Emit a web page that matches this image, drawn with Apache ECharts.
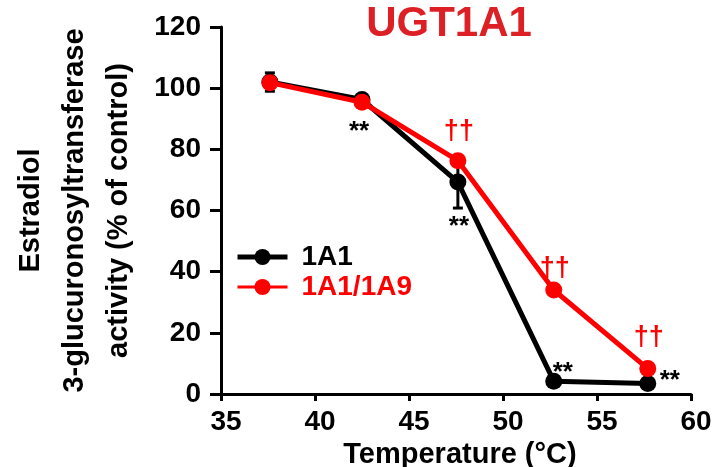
<!DOCTYPE html>
<html>
<head>
<meta charset="utf-8">
<script src="https://cdn.jsdelivr.net/npm/echarts@6/dist/echarts.min.js"></script>
<style>
  html, body { margin: 0; padding: 0; background: #fff; }
  #chart { width: 720px; height: 467px; }
</style>
</head>
<body>
<div id="chart"></div>
<script>
// ---- data ----
const temperatures = [37.6, 42.5, 47.6, 52.7, 57.7];
const seriesNames = ['1A1', '1A1/1A9'];
const activity1A1 = [102.0, 96.3, 69.3, 4.2, 3.4];
const activity1A1_1A9 = [101.8, 95.4, 76.3, 34.0, 8.3];
const error1A1 = [3.0, 0, 8.5, 0, 0];
const error1A1_1A9 = [0, 0, 0, 0, 0];
const marks1A1 = ['', '**', '**', '**', '**'];
const marks1A1_1A9 = ['', '', '††', '††', '††'];
const xTicks = [35, 40, 45, 50, 55, 60];
const yTicks = [0, 20, 40, 60, 80, 100, 120];

// ---- styling ----
const FONT = '"Liberation Sans", Arial, Helvetica, sans-serif';
const BLACK = '#000000';
const RED = '#ff0000';
const markOffsets1A1 = [[0, 0], [-3, 32], [1, 45], [9, -8], [22, -3]];
const markOffsets1A1_1A9 = [[0, 0], [0, 0], [1, -29], [1, -21], [1, -31]];

function lineData(values, marks, offsets, color, fontSize, weight) {
  return temperatures.map((t, i) => ({
    value: [t, values[i]],
    label: {
      show: marks[i] !== '',
      formatter: marks[i],
      position: 'inside',
      offset: offsets[i],
      color: color,
      fontSize: fontSize,
      fontWeight: weight,
      fontFamily: FONT
    }
  }));
}

function errData(values, errs) {
  return temperatures.map((t, i) => [t, values[i], errs[i]]).filter(d => d[2] > 0);
}

function renderErr(color) {
  return function (params, api) {
    const x = api.value(0), y = api.value(1), e = api.value(2);
    const top = api.coord([x, y + e]);
    const bot = api.coord([x, y - e]);
    const w = 5;
    const style = { stroke: color, lineWidth: 3 };
    return {
      type: 'group',
      children: [
        { type: 'line', shape: { x1: top[0], y1: top[1], x2: bot[0], y2: bot[1] }, style: style },
        { type: 'line', shape: { x1: top[0] - w, y1: top[1], x2: top[0] + w, y2: top[1] }, style: style },
        { type: 'line', shape: { x1: bot[0] - w, y1: bot[1], x2: bot[0] + w, y2: bot[1] }, style: style }
      ]
    };
  };
}

const chart = echarts.init(document.getElementById('chart'), null, { renderer: 'canvas' });

const option = {
  backgroundColor: '#ffffff',
  animation: false,
  title: {
    text: 'UGT1A1',
    left: 446,
    textAlign: 'center',
    top: 0,
    padding: 3,
    textStyle: { color: '#dd1f26', fontSize: 42, fontWeight: 'bold', fontFamily: FONT }
  },
  legend: {
    orient: 'vertical',
    left: 235,
    top: 243,
    padding: 0,
    itemWidth: 50,
    itemHeight: 20,
    itemGap: 2,
    data: [
      { name: seriesNames[0], textStyle: { color: BLACK }, lineStyle: { width: 5 } },
      { name: seriesNames[1], textStyle: { color: RED }, lineStyle: { width: 3 } }
    ],
    lineStyle: { width: 4 },
    textStyle: { fontSize: 28, fontWeight: 'bold', fontFamily: FONT, padding: [0, 0, 0, 9] }
  },
  grid: { left: 221, right: 29, top: 27, bottom: 73, containLabel: false, outerBoundsMode: 'none' },
  xAxis: {
    type: 'value',
    min: xTicks[0],
    max: xTicks[xTicks.length - 1],
    interval: 5,
    name: 'Temperature (°C)',
    nameLocation: 'middle',
    nameGap: 38,
    nameTextStyle: { color: BLACK, fontSize: 29, fontWeight: 'bold', fontFamily: FONT, padding: [0, 0, 0, 8] },
    axisLine: { show: true, onZero: false, lineStyle: { color: BLACK, width: 3 } },
    axisTick: { show: true, length: 7, lineStyle: { color: BLACK, width: 3 } },
    axisLabel: { color: BLACK, fontSize: 28, fontWeight: 'bold', fontFamily: FONT, margin: 14, padding: [0, 0, 0, 10] },
    splitLine: { show: false }
  },
  yAxis: {
    type: 'value',
    min: yTicks[0],
    max: yTicks[yTicks.length - 1],
    interval: 20,
    name: 'Estradiol\n3-glucuronosyltransferase\nactivity (% of control)',
    nameLocation: 'middle',
    nameRotate: 90,
    nameGap: 80,
    nameTextStyle: { color: BLACK, fontSize: 29, fontWeight: 'bold', fontFamily: FONT, lineHeight: 44, align: 'center' },
    axisLine: { show: true, lineStyle: { color: BLACK, width: 3 } },
    axisTick: { show: true, length: 11, lineStyle: { color: BLACK, width: 3 } },
    axisLabel: { color: BLACK, fontSize: 28, fontWeight: 'bold', fontFamily: FONT, margin: 20, padding: [12, 0, 0, 0] },
    splitLine: { show: false }
  },
  series: [
    {
      type: 'custom',
      name: 'err1A1',
      renderItem: renderErr(BLACK),
      data: errData(activity1A1, error1A1),
      z: 1,
      silent: true
    },
    {
      type: 'custom',
      name: 'err1A1_1A9',
      renderItem: renderErr(RED),
      data: errData(activity1A1_1A9, error1A1_1A9),
      z: 1,
      silent: true
    },
    {
      name: seriesNames[0],
      type: 'line',
      symbol: 'circle',
      symbolSize: 17,
      color: BLACK,
      lineStyle: { color: BLACK, width: 5 },
      itemStyle: { color: BLACK },
      data: lineData(activity1A1, marks1A1, markOffsets1A1, BLACK, 26, 'bold'),
      z: 2
    },
    {
      name: seriesNames[1],
      type: 'line',
      symbol: 'circle',
      symbolSize: 17,
      color: RED,
      lineStyle: { color: RED, width: 5 },
      itemStyle: { color: RED },
      data: lineData(activity1A1_1A9, marks1A1_1A9, markOffsets1A1_1A9, RED, 27, 'bold'),
      z: 3
    }
  ]
};

chart.setOption(option);
</script>
</body>
</html>
